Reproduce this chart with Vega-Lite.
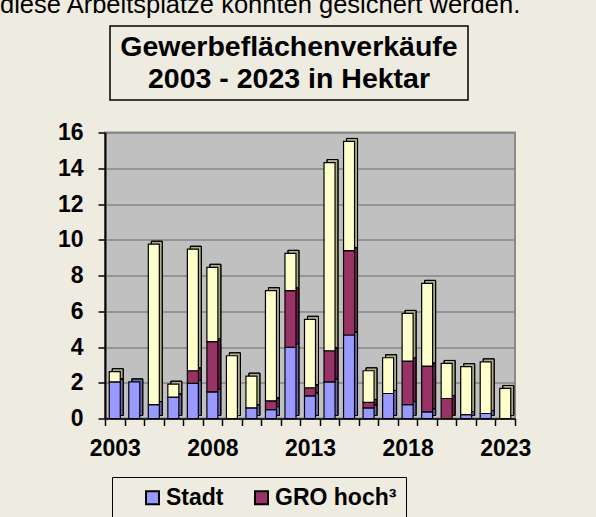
{
  "$schema": "https://vega.github.io/schema/vega-lite/v6.json",
  "padding": {"left": 0, "top": -8, "right": 100, "bottom": 60},
  "title": {
    "text": "diese Arbeitsplätze konnten gesichert werden.",
    "anchor": "start",
    "frame": "group",
    "fontSize": 25.5,
    "fontWeight": "normal",
    "font": "Liberation Sans",
    "color": "#000000",
    "offset": 7,
    "dx": -105
  },
  "spacing": 19.5,
  "vconcat": [
    {
      "spacing": 0,
      "hconcat": [
        {
          "width": 4,
          "height": 74,
          "data": {"values": [{"t": "spacer"}]},
          "view": {"stroke": null, "fill": null},
          "mark": {"type": "text", "text": ""}
        },
        {
          "width": 358,
          "height": 74,
          "data": {"values": [{"t": "title"}]},
          "view": {"stroke": "#000000", "strokeWidth": 1.5, "fill": null},
          "mark": {
            "type": "text",
            "text": ["Gewerbeflächenverkäufe", "2003 - 2023 in Hektar"],
            "font": "Liberation Sans",
            "fontWeight": "bold",
            "fontSize": 28.5,
            "lineHeight": 32,
            "baseline": "middle",
            "align": "center",
            "dy": -16,
            "color": "#000000"
          }
        }
      ]
    },
    {
      "width": 410,
      "height": 286,
      "data": {"values": [
        {"year": "2003", "series": "Stadt", "value": 2.05},
        {"year": "2003", "series": "Andere", "value": 0.57},
        {"year": "2004", "series": "Stadt", "value": 2.05},
        {"year": "2005", "series": "Stadt", "value": 0.78},
        {"year": "2005", "series": "Andere", "value": 8.97},
        {"year": "2006", "series": "Stadt", "value": 1.2},
        {"year": "2006", "series": "Andere", "value": 0.72},
        {"year": "2007", "series": "Stadt", "value": 1.96},
        {"year": "2007", "series": "GRO hoch³", "value": 0.71},
        {"year": "2007", "series": "Andere", "value": 6.8},
        {"year": "2008", "series": "Stadt", "value": 1.49},
        {"year": "2008", "series": "GRO hoch³", "value": 2.81},
        {"year": "2008", "series": "Andere", "value": 4.16},
        {"year": "2009", "series": "Andere", "value": 3.51},
        {"year": "2010", "series": "Stadt", "value": 0.6},
        {"year": "2010", "series": "Andere", "value": 1.77},
        {"year": "2011", "series": "Stadt", "value": 0.5},
        {"year": "2011", "series": "GRO hoch³", "value": 0.49},
        {"year": "2011", "series": "Andere", "value": 6.16},
        {"year": "2012", "series": "Stadt", "value": 3.98},
        {"year": "2012", "series": "GRO hoch³", "value": 3.17},
        {"year": "2012", "series": "Andere", "value": 2.09},
        {"year": "2013", "series": "Stadt", "value": 1.27},
        {"year": "2013", "series": "GRO hoch³", "value": 0.45},
        {"year": "2013", "series": "Andere", "value": 3.83},
        {"year": "2014", "series": "Stadt", "value": 2.05},
        {"year": "2014", "series": "GRO hoch³", "value": 1.74},
        {"year": "2014", "series": "Andere", "value": 10.53},
        {"year": "2015", "series": "Stadt", "value": 4.67},
        {"year": "2015", "series": "GRO hoch³", "value": 4.72},
        {"year": "2015", "series": "Andere", "value": 6.11},
        {"year": "2016", "series": "Stadt", "value": 0.6},
        {"year": "2016", "series": "GRO hoch³", "value": 0.3},
        {"year": "2016", "series": "Andere", "value": 1.77},
        {"year": "2017", "series": "Stadt", "value": 1.4},
        {"year": "2017", "series": "Andere", "value": 2.0},
        {"year": "2018", "series": "Stadt", "value": 0.78},
        {"year": "2018", "series": "GRO hoch³", "value": 2.43},
        {"year": "2018", "series": "Andere", "value": 2.67},
        {"year": "2019", "series": "Stadt", "value": 0.37},
        {"year": "2019", "series": "GRO hoch³", "value": 2.56},
        {"year": "2019", "series": "Andere", "value": 4.63},
        {"year": "2020", "series": "GRO hoch³", "value": 1.12},
        {"year": "2020", "series": "Andere", "value": 1.96},
        {"year": "2021", "series": "Stadt", "value": 0.22},
        {"year": "2021", "series": "Andere", "value": 2.68},
        {"year": "2022", "series": "Stadt", "value": 0.28},
        {"year": "2022", "series": "Andere", "value": 2.89},
        {"year": "2023", "series": "Andere", "value": 1.68}
      ]},
      "view": {"fill": "#c0c0c0", "stroke": "#8a8a8a", "strokeWidth": 2},
      "encoding": {
        "x": {
          "field": "year",
          "type": "ordinal",
          "title": null,
          "scale": {"paddingInner": 0, "paddingOuter": 0},
          "axis": {
            "labelAngle": 0,
            "labelExpr": "(+datum.value - 2003) % 5 === 0 ? datum.label : ''",
            "labelFont": "Liberation Sans",
            "labelFontWeight": "bold",
            "labelFontSize": 23,
            "labelColor": "#000000",
            "labelPadding": 12,
            "tickBand": "extent",
            "tickSize": 7,
            "tickColor": "#000000",
            "tickWidth": 1.5,
            "domainColor": "#000000",
            "domainWidth": 1.5,
            "grid": false
          }
        },
        "y": {
          "field": "value",
          "type": "quantitative",
          "stack": "zero",
          "title": null,
          "scale": {"domain": [0, 16], "nice": false},
          "axis": {
            "values": [0, 2, 4, 6, 8, 10, 12, 14, 16],
            "labelFont": "Liberation Sans",
            "labelFontWeight": "bold",
            "labelFontSize": 23,
            "labelColor": "#000000",
            "labelPadding": 15,
            "tickSize": 7,
            "tickColor": "#000000",
            "tickWidth": 1.5,
            "domainColor": "#000000",
            "domainWidth": 2,
            "grid": true,
            "gridColor": "#868686",
            "gridWidth": 1.5
          }
        },
        "order": {"field": "series", "sort": "descending"},
        "color": {
          "field": "series",
          "type": "nominal",
          "scale": {"domain": ["Stadt", "GRO hoch³", "Andere"], "range": ["#9999ff", "#993366", "#ffffcc"]},
          "legend": {
            "title": null,
            "values": ["Stadt", "GRO hoch³"],
            "orient": "none",
            "legendX": 7,
            "legendY": 451,
            "direction": "horizontal",
            "columns": 2,
            "columnPadding": 6,
            "padding": 9,
            "symbolOffset": 20,
            "strokeColor": "#000000",
            "fillColor": "#eeebe0",
            "symbolType": "square",
            "symbolSize": 169,
            "symbolStrokeColor": "#000000",
            "symbolStrokeWidth": 2,
            "symbolOpacity": 1,
            "labelFont": "Liberation Sans",
            "labelFontWeight": "bold",
            "labelFontSize": 23,
            "labelColor": "#000000",
            "labelOffset": 2
          }
        }
      },
      "layer": [
        {
          "mark": {"type": "bar", "size": 11, "xOffset": 3, "yOffset": -3, "stroke": "#000000", "strokeWidth": 1}
        },
        {
          "mark": {"type": "bar", "size": 11, "xOffset": 3, "yOffset": -3, "fill": "#000000", "fillOpacity": 0.32, "stroke": "#000000", "strokeWidth": 1},
          "encoding": {
            "color": null,
            "detail": {"field": "series"}
          }
        },
        {
          "mark": {"type": "bar", "size": 11, "stroke": "#000000", "strokeWidth": 1.2}
        }
      ]
    }
  ],
  "config": {
    "background": "#eeebe0",
    "font": "Liberation Sans"
  }
}
